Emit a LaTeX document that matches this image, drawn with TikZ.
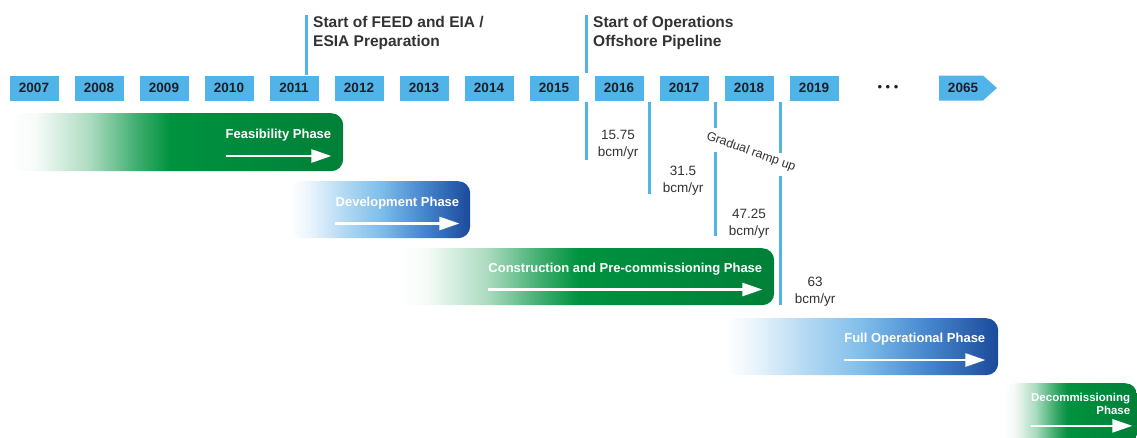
\documentclass[tikz,border=0pt]{standalone}
\usepackage{fontspec}
\setmainfont{Liberation Sans}
\usetikzlibrary{arrows.meta,calc}
\definecolor{boxblue}{RGB}{80,180,232}
\definecolor{yeartext}{RGB}{30,30,40}
\definecolor{headtext}{RGB}{50,50,50}
\definecolor{phgreen}{RGB}{0,146,63}
\definecolor{phgreendark}{RGB}{0,128,56}
\definecolor{lightblue}{RGB}{128,190,234}
\definecolor{midblue}{RGB}{70,134,205}
\definecolor{darkblue}{RGB}{27,74,155}
\pgfdeclarehorizontalshading{greenfade}{100bp}{color(0bp)=(white); color(25bp)=(white); color(29bp)=(white!96!phgreen); color(37bp)=(phgreen!33); color(44bp)=(phgreen!75); color(49bp)=(phgreen); color(75bp)=(phgreendark); color(100bp)=(phgreendark)}
\pgfdeclarehorizontalshading{bluefade}{100bp}{color(0bp)=(white); color(25bp)=(white); color(30bp)=(lightblue!15); color(40bp)=(lightblue!60); color(50bp)=(lightblue); color(62bp)=(midblue); color(75bp)=(darkblue); color(100bp)=(darkblue)}
\tikzset{
  yearbox/.style={fill=boxblue, minimum width=49pt, minimum height=25pt, inner sep=0pt, font=\bfseries\fontsize{13.5}{16}\selectfont, text=yeartext},
  marker/.style={draw=boxblue, line width=3pt},
  heading/.style={anchor=north west, inner sep=0pt, align=left, font=\bfseries\fontsize{15.5}{19}\selectfont, text=headtext},
  rate/.style={align=center, inner sep=0pt, font=\fontsize{13.5}{17}\selectfont, text=headtext},
  phasebar/.style={anchor=north west, minimum height=57pt, inner sep=0pt, rounded corners=12pt},
  greenbar/.style={phasebar, shading=greenfade},
  bluebar/.style={phasebar, shading=bluefade},
  phasetext/.style={anchor=base east, inner sep=0pt, text=white, font=\bfseries\fontsize{13}{15}\selectfont},
  phasearrow/.style={draw=white, line width=2.5pt, -{Triangle[length=20pt,width=13pt]}},
}
\begin{document}
\begin{tikzpicture}[x=1pt,y=-1pt]
\useasboundingbox (0,0) rectangle (1137,437);
\clip (0,0) rectangle (1137,437);
% year boxes
\foreach \yr [count=\i from 0] in {2007,2008,2009,2010,2011,2012,2013,2014,2015,2016,2017,2018,2019}
  \node[yearbox] (y\yr) at (34+65*\i,88) {\yr};
\fill[boxblue] (939,75.5) -- (983,75.5) -- (997,88) -- (983,100.5) -- (939,100.5) -- cycle;
\node[font=\bfseries\fontsize{13.5}{16}\selectfont, text=yeartext, inner sep=0pt] (y2065) at (963,88) {2065};
\node[font=\fontsize{13}{15}\selectfont, text=yeartext, inner sep=0pt] (dots) at (888,88) {•\hspace{3.5pt}•\hspace{3.5pt}•};
% milestone headings
\coordinate (m1top) at (306,15);
\coordinate (m2top) at (586,15);
\coordinate (m2bot) at (586,73);
\draw[marker] (m1top) -- (m1top |- y2011.north);
\draw[marker] (m2top) -- (m2bot);
\node[heading] (feed) at (313,16.5) {Start of FEED and EIA /\\ESIA Preparation};
\node[heading] (ops) at (593,16.5) {Start of Operations\\Offshore Pipeline};
% ramp up markers
\coordinate (r1a) at (586,102); \coordinate (r1b) at (586,160);
\coordinate (r2a) at (649,102); \coordinate (r2b) at (649,194);
\coordinate (r3a) at (715,102); \coordinate (r3b) at (715,128);
\coordinate (r3c) at (715,152); \coordinate (r3d) at (715,236);
\coordinate (r4a) at (780,102); \coordinate (r4b) at (780,153);
\coordinate (r4c) at (780,176); \coordinate (r4d) at (780,305);
\draw[marker] (r1a) -- (r1b);
\draw[marker] (r2a) -- (r2b);
\draw[marker] (r3a) -- (r3b);
\draw[marker] (r3c) -- (r3d);
\draw[marker] (r4a) -- (r4b);
\draw[marker] (r4c) -- (r4d);
\node[rate] (rate1) at (618,145) {15.75\\bcm/yr};
\node[rate] (rate2) at (683,180.5) {31.5\\bcm/yr};
\node[rate] (rate3) at (749,224) {47.25\\bcm/yr};
\node[rate] (rate4) at (815,291.5) {63\\bcm/yr};
\node[rotate=-20, font=\fontsize{12.5}{15}\selectfont, text=headtext, inner sep=0pt] (ramp) at (751,152) {Gradual ramp up};
% phases
\node[greenbar, minimum width=333pt, minimum height=58pt] (feas) at (10,113) {};
\node[phasetext] (feast) at ([xshift=-12pt,yshift=-25pt]feas.north east) {Feasibility Phase};
\draw[phasearrow] ([yshift=-18pt]feast.base west) -- ([yshift=-18pt]feast.base east);

\node[bluebar, minimum width=180pt] (dev) at (290,181) {};
\node[phasetext] (devt) at ([xshift=-11pt,yshift=-25pt]dev.north east) {Development Phase};
\draw[phasearrow] ([yshift=-17.5pt]devt.base west) -- ([yshift=-17.5pt]devt.base east);

\node[greenbar, minimum width=377pt] (cons) at (397,248) {};
\node[phasetext] (const) at ([xshift=-12pt,yshift=-24pt]cons.north east) {Construction and Pre-commissioning Phase};
\draw[phasearrow] ([yshift=-17.5pt]const.base west) -- ([yshift=-17.5pt]const.base east);

\node[bluebar, minimum width=273pt] (full) at (725,318) {};
\node[phasetext] (fullt) at ([xshift=-13pt,yshift=-24pt]full.north east) {Full Operational Phase};
\draw[phasearrow] ([yshift=-18pt]fullt.base west) -- ([yshift=-18pt]fullt.base east);

\node[greenbar, minimum width=134pt, minimum height=62pt] (decom) at (1003,383) {};
\node[anchor=north east, inner sep=0pt, align=right, text=white, font=\bfseries\fontsize{11.5}{13}\selectfont] (decomt) at ([xshift=-7pt,yshift=-10pt]decom.north east) {Decommissioning\\Phase};
\draw[phasearrow] ([yshift=-11pt]decomt.south west) -- ([yshift=-11pt,xshift=2pt]decomt.south east);
\end{tikzpicture}
\end{document}
